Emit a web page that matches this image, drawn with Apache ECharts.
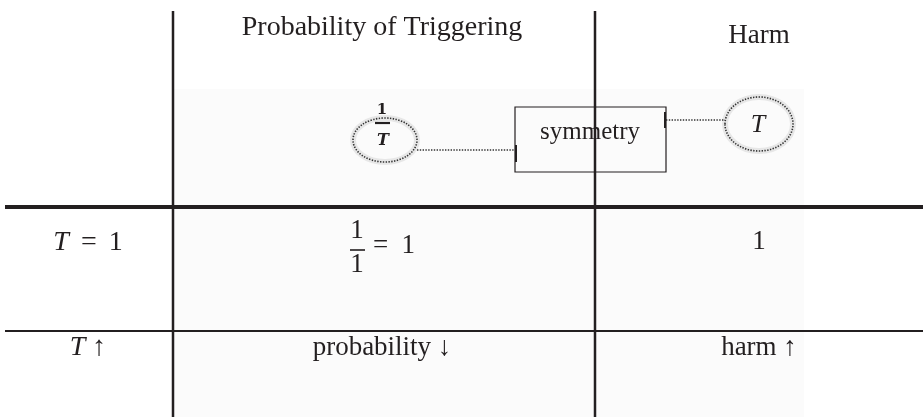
<!DOCTYPE html>
<html>
<head>
<meta charset="utf-8">
<script src="https://cdn.jsdelivr.net/npm/echarts@6/dist/echarts.min.js"></script>
<style>html,body{margin:0;padding:0;background:#fff}#c{width:923px;height:417px}</style>
</head>
<body>
<div id="c"></div>
<script>
// ---- content (text values of the table) ----
const columnHeaders = ['', 'Probability of Triggering', 'Harm'];
const rowLabels = ['T = 1', 'T ↑'];
const probabilityCells = ['1/1 = 1', 'probability ↓'];
const harmCells = ['1', 'harm ↑'];
const diagramLabels = ['1/T', 'symmetry', 'T'];

// ---- layout (in the hidden axes' units) ----
const W = 923, H = 417;
const SERIF = '"Liberation Serif","Times New Roman",serif';
const INK = '#231f20';
const colCenters = [88, 382, 759];
const headerY = [0, 27.5, 36];
const rowY = [243, 348];
const vLines = [[173, 11, H, 2.5], [595, 11, H, 2.5]];
const hLines = [[5, W, 207, 4], [5, W, 331, 2]];
const shade = [173, 89, 804, H];

function seg(api, x1, y1, x2, y2, style) {
  const a = api.coord([x1, y1]), b = api.coord([x2, y2]);
  return { type: 'line', shape: { x1: a[0], y1: a[1], x2: b[0], y2: b[1] }, style: style };
}
function txt(api, x, y, text, size, extra) {
  const p = api.coord([x, y]);
  return { type: 'text', x: p[0], y: p[1], style: Object.assign({
    text: text, fontFamily: SERIF, fontSize: size, fill: INK, align: 'center', verticalAlign: 'middle',
    rich: {
      i: { fontStyle: 'italic', fontFamily: SERIF, fontSize: size, fill: INK },
      e: { fontFamily: SERIF, fontSize: size, fill: INK, padding: [0, 5, 0, 5] }
    }
  }, extra || {}) };
}
function mathify(s) { return s.replace(/^T/, '{i|T}').replace(/ = /, '{e| = }'); }

const option = {
  animation: false,
  backgroundColor: '#ffffff',
  grid: { left: 0, right: 0, top: 0, bottom: 0 },
  xAxis: { type: 'value', min: 0, max: W, show: false },
  yAxis: { type: 'value', min: 0, max: H, inverse: true, show: false },
  series: [
    { // faint shaded backdrop
      type: 'custom', silent: true, data: [shade],
      renderItem: function (params, api) {
        const a = api.coord([api.value(0), api.value(1)]), b = api.coord([api.value(2), api.value(3)]);
        return { type: 'rect', shape: { x: a[0], y: a[1], width: b[0] - a[0], height: b[1] - a[1] }, style: { fill: '#fbfbfb' } };
      }
    },
    { // diagram: 1/T ellipse, symmetry box, T ellipse
      type: 'custom', silent: true, data: [[0]],
      renderItem: function (params, api) {
        const dot = { stroke: '#333', lineWidth: 1.6, lineDash: [1.4, 1.4], fill: null };
        const glow = { stroke: 'rgba(0,0,0,0.08)', lineWidth: 6, fill: null };
        const e1 = api.coord([385, 140]), e2 = api.coord([759, 124]);
        const r1 = api.size([32, 22]), r2 = api.size([34, 27]);
        const b0 = api.coord([515, 107]), bs = api.size([151, 65]);
        const parts = diagramLabels[0].split('/');
        return { type: 'group', children: [
          { type: 'ellipse', shape: { cx: e1[0], cy: e1[1], rx: r1[0], ry: r1[1] }, style: glow },
          { type: 'ellipse', shape: { cx: e1[0], cy: e1[1], rx: r1[0], ry: r1[1] }, style: dot },
          { type: 'ellipse', shape: { cx: e2[0], cy: e2[1], rx: r2[0], ry: r2[1] }, style: glow },
          { type: 'ellipse', shape: { cx: e2[0], cy: e2[1], rx: r2[0], ry: r2[1] }, style: dot },
          seg(api, 417, 150, 515, 150, dot),
          seg(api, 666, 120, 725, 120, dot),
          { type: 'rect', shape: { x: b0[0], y: b0[1], width: bs[0], height: bs[1] }, style: { stroke: INK, lineWidth: 1.2, fill: null } },
          seg(api, 516, 145, 516, 162, { stroke: INK, lineWidth: 2 }),
          seg(api, 665, 112, 665, 128, { stroke: INK, lineWidth: 2 }),
          txt(api, 382, 110, parts[0], 15, { fontWeight: 'bold', fontFamily: '"DejaVu Serif",serif' }),
          seg(api, 375, 123, 390, 123, { stroke: INK, lineWidth: 2.2 }),
          txt(api, 383, 141, parts[1], 16, { fontWeight: 'bold', fontStyle: 'italic', fontFamily: '"DejaVu Serif",serif' }),
          txt(api, 590, 132, diagramLabels[1], 25),
          txt(api, 758, 125, diagramLabels[2], 26, { fontStyle: 'italic' })
        ] };
      }
    },
    { // header texts
      type: 'custom', silent: true, data: columnHeaders.map(function (h, i) { return [colCenters[i], headerY[i]]; }),
      renderItem: function (params, api) {
        const t = columnHeaders[params.dataIndex];
        if (!t) return { type: 'group', children: [] };
        return txt(api, api.value(0), api.value(1), t, params.dataIndex === 1 ? 28 : 27);
      }
    },
    { // row labels
      type: 'custom', silent: true, data: rowLabels.map(function (r, i) { return [colCenters[0], rowY[i]]; }),
      renderItem: function (params, api) {
        return txt(api, api.value(0), api.value(1), mathify(rowLabels[params.dataIndex]), 28);
      }
    },
    { // probability column
      type: 'custom', silent: true, data: probabilityCells.map(function (r, i) { return [colCenters[1], rowY[i]]; }),
      renderItem: function (params, api) {
        const t = probabilityCells[params.dataIndex];
        const m = t.match(/^(\d+)\/(\d+)\s*(.*)$/);
        if (m) {
          const y = api.value(1);
          return { type: 'group', children: [
            txt(api, 357, y - 12, m[1], 27),
            seg(api, 350, y + 7, 365, y + 7, { stroke: INK, lineWidth: 1.6 }),
            txt(api, 357, y + 22, m[2], 27),
            txt(api, 394, y + 3, m[3].replace(' ', '  '), 27)
          ] };
        }
        return txt(api, api.value(0), api.value(1), t, 27);
      }
    },
    { // harm column
      type: 'custom', silent: true, data: harmCells.map(function (r, i) { return [colCenters[2], rowY[i] - (i === 0 ? 1 : 0)]; }),
      renderItem: function (params, api) {
        return txt(api, api.value(0), api.value(1), harmCells[params.dataIndex], 27);
      }
    },
    { // table rules
      type: 'custom', silent: true, z: 10,
      data: vLines.map(function (v) { return [v[0], v[1], v[0], v[2], v[3]]; })
        .concat(hLines.map(function (h) { return [h[0], h[2], h[1], h[2], h[3]]; })),
      renderItem: function (params, api) {
        return seg(api, api.value(0), api.value(1), api.value(2), api.value(3), { stroke: INK, lineWidth: api.value(4) });
      }
    }
  ]
};
const chart = echarts.init(document.getElementById('c'), null, { renderer: 'canvas' });
chart.setOption(option);
</script>
</body>
</html>
